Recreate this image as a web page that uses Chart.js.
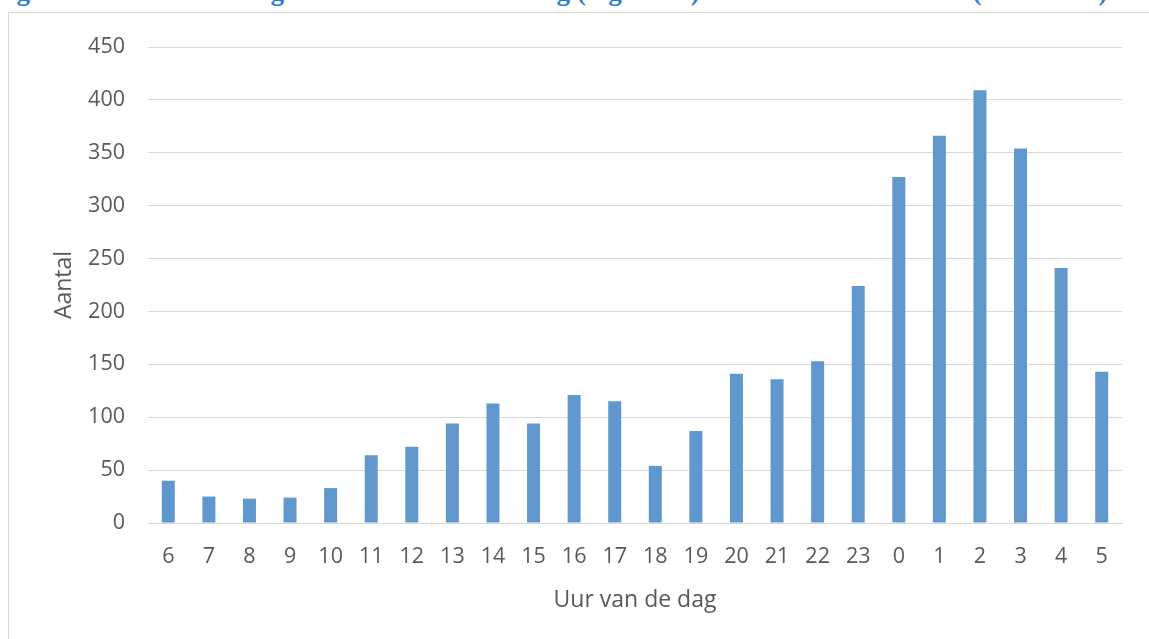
<!DOCTYPE html>
<html>
<head>
<meta charset="utf-8">
<script src="https://cdn.jsdelivr.net/npm/chart.js@4.4.1/dist/chart.umd.min.js"></script>
<style>
  html, body { margin: 0; padding: 0; background: #fff; overflow: hidden; }
  #wrap { position: relative; width: 1149px; height: 639px; }
  #frame { position: absolute; left: 8px; top: 12px; width: 1160px; height: 660px; border: 1px solid #d9d9d9; box-sizing: border-box; }
  #title { position: absolute; left: -30px; width: 1160px; top: -22px; text-align: center; white-space: nowrap;
           font-family: "Liberation Serif", serif; font-weight: bold; font-size: 27px; line-height: 27px; color: #2a7fd0; }
  #c { position: absolute; left: 0; top: 0; }
</style>
</head>
<body>
<div id="wrap">
  <div id="title">Figuur 3: Aantal meldingen verbroken verbinding (afgemeld) naar uur in Nederland (2014-2015)</div>
  <div id="frame"></div>
  <canvas id="c" width="1149" height="639"></canvas>
</div>
<script>
// uren van de dag, vanaf 6 uur 's ochtends
const hours = ['6','7','8','9','10','11','12','13','14','15','16','17','18','19','20','21','22','23','0','1','2','3','4','5'];
const counts = [40, 25, 23, 24, 33, 64, 72, 94, 113, 94, 121, 115, 54, 87, 141, 136, 153, 224, 327, 366, 409, 354, 241, 143];

const yMax = 450;
const yStep = 50;

const textColor = '#595959';
const gridColor = '#d9d9d9';
const fontFam = '"Open Sans", "Liberation Sans", sans-serif';

new Chart(document.getElementById('c'), {
    type: 'bar',
    data: {
        labels: hours,
        datasets: [{
            label: 'Aantal',
            data: counts,
            backgroundColor: '#6097cd',
            borderWidth: 0,
            categoryPercentage: 1,
            barPercentage: 0.32
        }]
    },
    options: {
        responsive: false,
        animation: false,
        layout: { padding: { left: 50, right: 27, top: 47, bottom: 0 } },
        plugins: { legend: { display: false }, tooltip: { enabled: false } },
        scales: {
            x: {
                grid: { display: false, drawTicks: false },
                border: { display: true, color: gridColor, width: 1 },
                ticks: { color: textColor, font: { family: fontFam, size: 21.5 }, padding: 21, maxRotation: 0 },
                title: { display: true, text: 'Uur van de dag', color: textColor,
                         font: { family: fontFam, size: 23 }, padding: { top: 25, bottom: 25 } },
                afterFit: s => { s.height = 116; }
            },
            y: {
                min: 0, max: yMax,
                grid: { color: gridColor, lineWidth: 1, drawTicks: false },
                border: { display: false },
                ticks: { stepSize: yStep, color: textColor, font: { family: fontFam, size: 21.5 }, padding: 23 },
                title: { display: true, text: 'Aantal', color: textColor,
                         font: { family: fontFam, size: 23 }, padding: { top: 1, bottom: 1 } },
                afterFit: s => { s.width = 98; }
            }
        }
    }
});
</script>
</body>
</html>
